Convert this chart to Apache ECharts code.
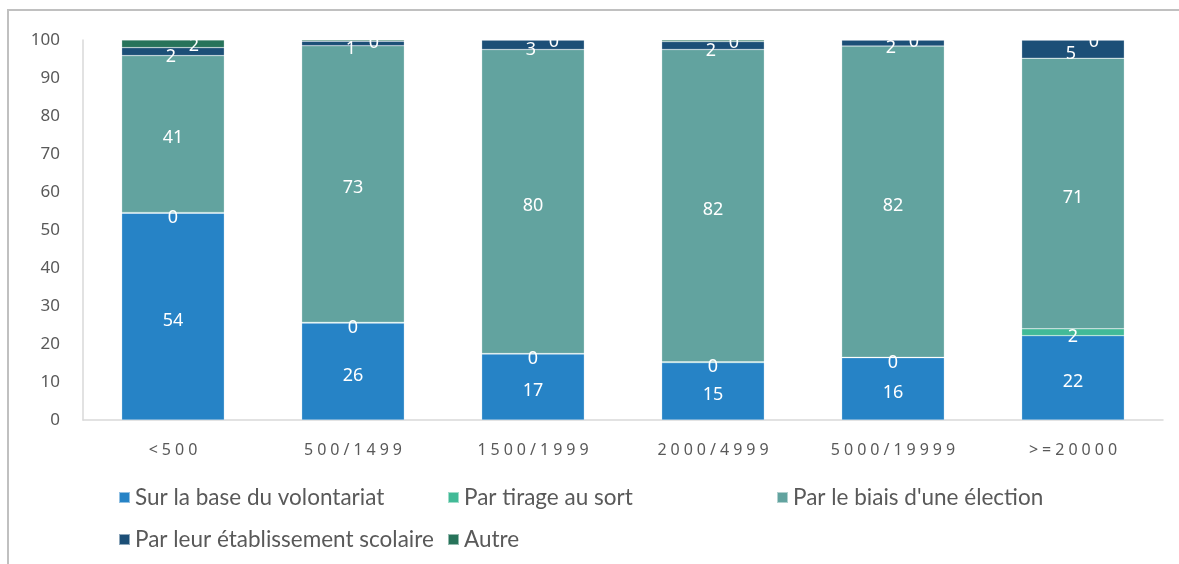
<!DOCTYPE html>
<html>
<head>
<meta charset="utf-8">
<script src="https://cdn.jsdelivr.net/npm/echarts@6/dist/echarts.min.js"></script>
<style>html,body{margin:0;padding:0;background:#fff;}#c{width:1179px;height:564px;}</style>
</head>
<body>
<div id="c"></div>
<script>
const categories = ['<500', '500/1499', '1500/1999', '2000/4999', '5000/19999', '>=20000'];
const seriesNames = ['Sur la base du volontariat', 'Par tirage au sort', "Par le biais d'une élection", 'Par leur établissement scolaire', 'Autre'];
const volontariat = [54.4, 25.5, 17.4, 15.1, 16.4, 22.2];
const tirage = [0.2, 0.2, 0.1, 0.2, 0.1, 1.8];
const election = [41.3, 72.8, 80.0, 82.2, 81.9, 71.2];
const etablissement = [2.1, 1.2, 2.5, 2.1, 1.6, 4.8];
const autre = [2.0, 0.3, 0.0, 0.4, 0.0, 0.0];
const yTicks = [0, 10, 20, 30, 40, 50, 60, 70, 80, 90, 100];

const colors = ['#2683C6', '#42BA97', '#62A39F', '#1C4F77', '#27735A'];
const offsets = [[0, 4], [0, 5], [0, 4], [-2, 5], [21, 2]];
const allData = [volontariat, tirage, election, etablissement, autre];

const chart = echarts.init(document.getElementById('c'));
const series = allData.map((d, i) => ({
  name: seriesNames[i],
  type: 'bar',
  stack: 'total',
  data: d,
  barWidth: '57%',
  itemStyle: { color: colors[i], borderColor: 'rgba(255,255,255,0.5)', borderWidth: 0.5 },
  label: {
    show: true,
    position: 'inside',
    offset: offsets[i],
    color: '#fff',
    fontSize: 18,
    fontFamily: 'Noto Sans',
    formatter: p => String(Math.round(p.value))
  },
  emphasis: { disabled: true }
}));

const legendBase = {
  orient: 'vertical',
  top: 486,
  padding: 0,
  itemWidth: 11,
  itemHeight: 11,
  itemGap: 19,
  icon: 'rect',
  textStyle: { fontSize: 22.5, fontFamily: 'Lato', color: '#595959', lineHeight: 22 },
  selectedMode: false
};

chart.setOption({
  animation: false,
  grid: { left: 83, right: 16, top: 40, bottom: 144 },
  xAxis: {
    type: 'category',
    data: categories,
    axisLine: { lineStyle: { color: '#d9d9d9', width: 1.5 } },
    axisTick: { show: false },
    axisLabel: {
      interval: 0,
      hideOverlap: false,
      color: '#595959', fontSize: 16, fontFamily: 'Noto Sans', margin: 22,
      formatter: v => v.split('').map(ch => '{c|' + ch + '}').join(''),
      rich: { c: { color: '#595959', fontSize: 16, fontFamily: 'Noto Sans', padding: [0, 2] } }
    }
  },
  yAxis: {
    type: 'value',
    min: yTicks[0],
    max: yTicks[yTicks.length - 1],
    interval: 10,
    axisLine: { show: true, lineStyle: { color: '#d9d9d9', width: 1.5 } },
    axisTick: { show: false },
    splitLine: { show: false },
    axisLabel: { color: '#595959', fontSize: 17, fontFamily: 'Noto Sans', margin: 23 }
  },
  legend: [
    Object.assign({}, legendBase, { left: 118, data: [seriesNames[0], seriesNames[3]] }),
    Object.assign({}, legendBase, { left: 447, data: [seriesNames[1], seriesNames[4]] }),
    Object.assign({}, legendBase, { left: 776, data: [seriesNames[2]] })
  ],
  graphic: [{
    type: 'rect',
    shape: { x: 8, y: 10, width: 1200, height: 600 },
    style: { fill: 'none', stroke: '#c0c0c0', lineWidth: 2 },
    silent: true
  }],
  series: series
});
</script>
</body>
</html>
